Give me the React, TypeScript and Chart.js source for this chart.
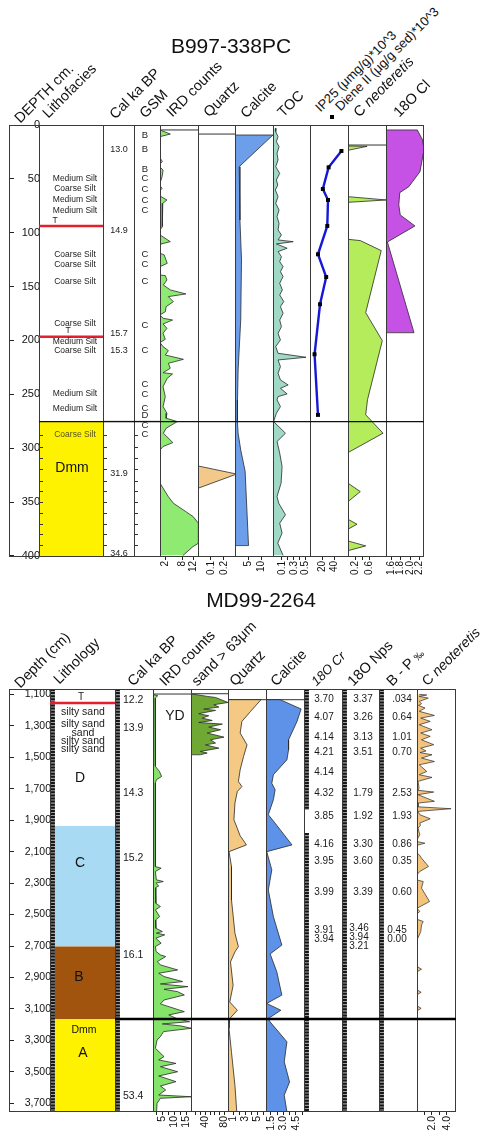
import React, { useEffect, useRef } from 'react';
import { Chart, registerables } from 'chart.js';

Chart.register(...registerables);

const FONT = '"Liberation Sans", Arial, Helvetica, sans-serif';
type P = [number, number]; // [depth, value]

// ================= Panel 1 : B997-338PC (depth cm) =================
const p1DepthTicks = [0, 50, 100, 150, 200, 250, 300, 350, 400];

const p1LithDepth = [49.5, 59.4, 69.6, 79.5, 120.4, 129.3, 145.4, 184.7, 201.1, 209.5, 249.7, 262.9];
const p1LithName = ['Medium Silt', 'Coarse Silt', 'Medium Silt', 'Medium Silt', 'Coarse Silt', 'Coarse Silt',
  'Coarse Silt', 'Coarse Silt', 'Medium Silt', 'Coarse Silt', 'Medium Silt', 'Medium Silt'];
const p1TephraDepth = [93.7, 196.5];
const p1DmmTop = 275.3;
const p1DmmLabels = ['Coarse Silt', 'Dmm'];
const p1DmmLabelDepth = [287.7, 318.6];
const p1CoreMarks = [288, 299, 309, 319, 330, 340, 350, 360, 370, 380, 390];

const p1CalDepth = [22.3, 98.4, 193.3, 209.5, 323.9, 398.1];
const p1CalAge = ['13.0', '14.9', '15.7', '15.3', '31.9', '34.6'];

const p1GsmDepth = [9.9, 22.3, 40.8, 49.5, 59.4, 69.6, 79.5, 120.4, 129.3, 145.4, 186.3, 209.5, 240.7, 249.7, 262.9, 269.1, 278.4, 287];
const p1GsmCode = ['B', 'B', 'B', 'C', 'C', 'C', 'C', 'C', 'C', 'C', 'C', 'C', 'C', 'C', 'C', 'D', 'C', 'C'];

const p1IRD: P[] = [[4.6, 0], [8.4, 3.7], [10.8, 0], [30.3, 0], [34, 0.85], [36.2, 0], [39, 0], [41.8, 1.1], [48, 0.75], [54, 0],
  [56.5, 0], [58.8, 0.75], [61, 0], [65.9, 0], [69.6, 2.5], [72.7, 1.0], [80, 0.8], [94.4, 0.85], [97.4, 0], [102, 0],
  [108.3, 3.7], [110.4, 0.4], [113, 0], [119, 0], [120.6, 1.5], [128.4, 2.6], [131.5, 0], [139.2, 0], [139.8, 1.9],
  [143.9, 2.5], [148.5, 1.2], [153.1, 3.7], [156.8, 9.3], [159.3, 3.0], [164, 4.8], [168.6, 2.2], [173.3, 1.9], [176.3, 0],
  [179.4, 1.1], [181, 4.5], [184.7, 1.1], [188.7, 2.5], [193.3, 1.1], [198.9, 1.9], [202, 0], [205.7, 1.1], [209.4, 3.0],
  [213.5, 1.9], [217.5, 8.4], [221.2, 3.0], [225.8, 3.7], [229.9, 1.1], [231.1, 4.5], [235.1, 2.6], [242.9, 1.1],
  [252.2, 1.9], [261.4, 1.1], [267.6, 2.5], [272.2, 2.2], [275.3, 6.2], [281.5, 2.2], [286.1, 1.2], [294.8, 4.6],
  [298.5, 1.1], [301.6, 0], [332.5, 0], [345, 3.0], [351.1, 4.8], [358.9, 9.3], [363.5, 11.9], [369.7, 13.8],
  [388.2, 13.8], [391.4, 11.8], [399.7, 8.2]];
const p1IRDTop = 4.6;

const p1Quartz: P[] = [[316.5, 0], [324, 0.3], [337.2, 0]];
const p1QuartzTop = 8.4;

const p1Calcite: P[] = [[9.3, 0], [9.3, 14.6], [38.7, 1.6], [88.2, 1.9], [125.3, 2.5], [181, 2.2], [227.4, 1.2],
  [255.2, 0.96], [275.3, 0.92], [286.1, 1.2], [301.6, 2.2], [321.4, 3.9], [390.4, 5.2], [390.4, 0]];

const p1TOC: P[] = [[3, 0.0], [6.2, -0.004], [10.8, 0.035], [15.5, 0.007], [20.1, 0.052], [26.3, 0.018], [32.5, 0.035],
  [38.7, -0.004], [44.9, 0.063], [51, 0.007], [55.7, 0.03], [60.3, -0.01], [66.5, 0.035], [72.7, -0.004], [78.9, 0.052],
  [85.1, 0.018], [91.3, 0.052], [97.4, 0.035], [102.1, 0.092], [106.7, 0.035], [108.3, 0.29], [110.4, 0.007],
  [114.4, 0.188], [117.5, 0.035], [122.2, 0.092], [126.8, 0.063], [131.5, 0.12], [136.1, 0.075], [140.7, 0.12],
  [146.9, 0.063], [153.1, 0.108], [157.8, 0.063], [163.9, 0.132], [168.6, 0.075], [174.8, 0.12], [181, 0.063],
  [187.2, 0.092], [193.3, 0.035], [199.5, 0.075], [205.7, -0.004], [211.9, 0.035], [215.6, 0.506], [218.1, 0.035],
  [224.3, 0.075], [230.5, 0.035], [236.6, 0.075], [241.3, 0.205], [244.4, 0.075], [249.6, 0.188], [252.1, 0.035],
  [255.2, 0.018], [261.4, 0.075], [267.6, 0.007], [275.3, -0.04], [286.1, 0.16], [293.8, 0.018], [304.6, 0.063],
  [317, 0.103], [332.5, 0.086], [344.8, 0.018], [351, 0.046], [361.8, 0.16], [369.5, 0.063], [378.8, 0.103],
  [388.1, 0.03], [399.5, 0.12]];

const p1IP25: P[] = [[24.1, 52.4], [39.3, 31], [59.4, 21.4], [69.6, 30], [93.7, 28.8], [120, 13.3], [141.1, 27],
  [166.4, 16.7], [212.8, 7.6], [269.1, 13.3]];

const p1Cneo: P[] = [[19.5, 0], [19.8, 0.53], [23.5, 0], [66.5, 0], [69.6, 1.06], [71.8, 0], [106.1, 0], [107.3, 0.34],
  [116.6, 0.92], [174.2, 0.49], [200.2, 0.95], [255, 0.54], [269, 0.49], [286.1, 0.97], [304.1, 0], [332.5, 0],
  [340.3, 0.34], [349.6, 0], [366, 0], [370.6, 0.25], [375.2, 0], [386.1, 0], [390.7, 0.49], [395.1, 0]];
const p1CneoTop = 18.6;

const p1O18: P[] = [[4.6, 1.49], [4.6, 2.15], [13.9, 2.26], [23.2, 2.29], [43.3, 2.205], [57.3, 1.97], [62.8, 1.78],
  [74.2, 1.76], [83.5, 1.79], [93.7, 2.1], [108.6, 1.52], [192.8, 2.08], [192.8, 1.49]];

// ================= Panel 2 : MD99-2264 (depth cm) =================
const p2DepthTicks = [1100, 1300, 1500, 1700, 1900, 2100, 2300, 2500, 2700, 2900, 3100, 3300, 3500, 3700];

const p2LithName = ['silty sand', 'silty sand', 'sand', 'silty sand', 'silty sand'];
const p2LithDepth = [1215, 1291, 1346, 1395, 1448];
const p2UnitName = ['D', 'C', 'B', 'A'];
const p2UnitDepth = [1632, 2173, 2900, 3382];
const p2UnitX = [30, 30, 29, 33];
const p2TephraDepth = 1155;
const p2UnitC: P = [1936, 2702];
const p2UnitB: P = [2702, 3164];
const p2UnitA: P = [3164, 3755];
const p2DmmDepth = 3234;
const p2Boundary = 3164;

const p2CalDepth = [1134, 1314, 1728, 2142, 2757, 3652];
const p2CalAge = ['12.2', '13.9', '14.3', '15.2', '16.1', '53.4'];

const p2CrDepth = [1134, 1244, 1372, 1467, 1597, 1728, 1877, 2050, 2160, 2356, 2598, 2655];
const p2CrVal = ['3.70', '4.07', '4.14', '4.21', '4.14', '4.32', '3.85', '4.16', '3.95', '3.99', '3.91', '3.94'];
const p2NpsDepth = [1134, 1244, 1372, 1467, 1728, 1877, 2050, 2160, 2356, 2587, 2646, 2704];
const p2NpsVal = ['3.37', '3.26', '3.13', '3.51', '1.79', '1.92', '3.30', '3.60', '3.39', '3.46', '3.94', '3.21'];
const p2BPDepth = [1134, 1244, 1372, 1467, 1728, 1877, 2050, 2160, 2356, 2598, 2655];
const p2BPVal = ['.034', '0.64', '1.01', '0.70', '2.53', '1.93', '0.86', '0.35', '0.60', '0.45', '0.00'];

const p2IRD: P[] = [[1098, 1.0], [1102.5, 1.3], [1109, 3.0], [1124, 1.9], [1140, 2.0], [1558, 2.0], [1590, 3.7], [1622, 4.6],
  [1643, 2.4], [1664, 2.0], [2195, 2.0], [2205, 4.4], [2226, 2.0], [2279, 2.4], [2290, 5.3], [2300, 2.2], [2318, 3.4],
  [2330, 2.0], [2428, 2.2], [2449, 4.1], [2470, 2.0], [2513, 3.8], [2535, 2.0], [2587, 2.2], [2608, 4.9], [2618, 2.4],
  [2629, 5.9], [2650, 2.2], [2682, 4.4], [2703, 2.0], [2735, 2.3], [2756, 4.1], [2767, 6.3], [2799, 2.8], [2820, 4.1],
  [2852, 11.3], [2873, 3.4], [2894, 5.6], [2926, 13.4], [2941, 4.1], [2958, 15.6], [2975, 5.6], [2990, 11.3],
  [3011, 14.1], [3043, 5.6], [3068, 4.1], [3117, 14.1], [3138, 7.6], [3159, 10.6], [3181, 16.3], [3195, 4.9],
  [3208, 12.7], [3223, 17.0], [3244, 5.4], [3276, 4.1], [3297, 2.7], [3350, 2.0], [3403, 5.6], [3424, 3.4],
  [3446, 10.6], [3467, 4.1], [3499, 11.3], [3526, 3.4], [3562, 10.6], [3590, 4.1], [3615, 6.3], [3647, 3.4],
  [3658, 17.0], [3668, 4.1], [3700, 2.7], [3750, 2.5]];
const p2IRDTop = 1098;

const p2Sand: P[] = [[1098, 10], [1102.5, 22.8], [1113, 44], [1120, 61.7], [1151.5, 87.9], [1166, 58.1], [1181, 68.7],
  [1193.5, 36.8], [1202, 61.7], [1223, 26.2], [1236, 47.4], [1251, 33.4], [1266, 54.7], [1279, 26.2], [1289, 76],
  [1308, 47.4], [1325, 72.3], [1346, 44], [1372, 79.4], [1389, 51.1], [1410, 61.7], [1421, 40.4], [1442, 68.7],
  [1463, 29.8], [1473, 44], [1484, 29.8], [1484, 10]];
const p2SandTop = 1096;

const p2Quartz: P[] = [[1134, 0.15], [1134, 5.6], [1209, 3.87], [1272, 2.45], [1346, 2.16], [1421, 3.3], [1495, 2.72],
  [1580, 2.16], [1654, 1.87], [1686, 2.45], [1717, 1.7], [1790, 1.3], [1897, 1.13], [1999, 2.16], [2057, 3.2],
  [2100, 0.32], [2195, 0.73], [2407, 0.73], [2619, 1.3], [2704, 1.87], [2737, 1.3], [2801, 0.56], [2950, 1.0],
  [3056, 0.44], [3108, 1.7], [3161, 0.44], [3224, 0.32], [3376, 0.73], [3588, 1.3], [3755, 1.6]];
const p2QuartzTop = 1134;

const p2Calcite: P[] = [[1134, 0.9], [1134, 2.6], [1193, 5.13], [1272, 4.64], [1389, 3.62], [1452, 3.62], [1516, 3.42],
  [1611, 1.79], [1665, 1.6], [1707, 2.0], [1770, 1.79], [1865, 1.18], [1919, 2.0], [2057, 4.03], [2100, 0.99],
  [2216, 1.6], [2344, 1.18], [2513, 1.79], [2694, 2.81], [2750, 1.4], [2864, 2.2], [3012, 2.81], [3065, 0.99],
  [3108, 2.69], [3161, 1.18], [3182, 1.39], [3309, 3.42], [3436, 3.1], [3564, 3.74], [3648, 3.1], [3755, 3.42]];
const p2CalciteTop = 1134;

const p2Cneo: P[] = [[1100, 0.3], [1104, 1.3], [1113, 0.3], [1124, 1.5], [1145, 0.3], [1160, 0.6], [1170, 0.2],
  [1187, 1.07], [1208, 0.3], [1234, 2.32], [1251, 0.5], [1272, 1.76], [1293, 0.3], [1325, 2.0], [1346, 0.5],
  [1367, 1.76], [1389, 0.6], [1420, 2.23], [1442, 0.5], [1460, 1.2], [1470, 0.4], [1484, 2.0], [1505, 0.6],
  [1527, 2.32], [1548, 0.3], [1590, 1.3], [1611, 0.3], [1628, 2.0], [1653, 0.14], [1696, 0.28], [1710, 0.14],
  [1721, 2.23], [1738, 0.14], [1780, 2.32], [1791, 0.14], [1815, 0.14], [1827, 4.54], [1844, 0.14], [1865, 0.37],
  [1891, 1.76], [1918, 0.37], [1933, 0.46], [1950, 0.14], [1993, 0.37], [2024, 0], [2036, 0], [2046, 1.05],
  [2060, 0], [2110, 0], [2120, 0.3], [2141, 0.6], [2194, 1.53], [2226, 0.37], [2247, 0], [2280, 0], [2290, 0.83],
  [2332, 0.6], [2417, 1.67], [2460, 0], [2480, 0.37], [2495, 0], [2530, 0], [2544, 0.83], [2566, 0.6], [2608, 0.5],
  [2661, 0], [2830, 0], [2847, 0.6], [2864, 0], [2978, 0], [2994, 0.55], [3010, 0], [3080, 0], [3096, 0.55], [3112, 0]];

// ================= rendering =================
const PADT = 10;
const YELLOW = '#FFF200';
const RED = '#E3202C';

type TextItem = { d: number; t: string; x: number; size: number; color?: string; align?: CanvasTextAlign; base?: CanvasTextBaseline; style?: string };
type Series = { pts: P[]; fill?: string; line?: string; lw?: number; points?: boolean };
type Spec = {
  L: number; R: number; T: number; B: number; yMin: number; yMax: number; axisH: number;
  xMin?: number; xMax?: number;
  series?: Series[]; tops?: number[];
  blocks?: { d1: number; d2: number; color: string }[];
  ticks?: number[]; labels?: string[]; tickFont?: number;
  texts?: TextItem[];
  hlines?: { d: number; color: string; w: number }[];
  hatch?: P[]; marks?: number[];
  depth?: { ticks: number[]; labels: string[]; font: number; pad: number };
};

function buildConfig(s: Spec) {
  const W = s.R - s.L + 1;
  const xMin = s.xMin ?? 0;
  const xMax = s.xMax ?? W;
  const datasets: any[] = [];
  (s.series || []).forEach((se) => {
    datasets.push({
      data: se.pts.map(([d, v]) => ({ x: v, y: d })),
      borderColor: se.line ?? '#2a2a2a',
      borderWidth: se.lw ?? 0.8,
      backgroundColor: se.fill ?? 'rgba(0,0,0,0)',
      fill: se.fill ? { value: xMin } : false,
      pointRadius: se.points ? 2.8 : 0,
      pointStyle: 'rect',
      pointBackgroundColor: '#000',
      pointBorderColor: '#000',
      pointBorderWidth: 0,
      tension: 0,
    });
  });
  (s.tops || []).forEach((d) => {
    datasets.push({ data: [{ x: xMin, y: d }, { x: xMax, y: d }], borderColor: '#333', borderWidth: 1, pointRadius: 0, fill: false });
  });
  (s.blocks || []).forEach((b) => {
    datasets.push({ data: [{ x: xMax, y: b.d1 }, { x: xMax, y: b.d2 }], borderWidth: 0, borderColor: 'rgba(0,0,0,0)', backgroundColor: b.color, fill: { value: xMin }, pointRadius: 0 });
  });

  const deco = {
    id: 'deco',
    afterDatasetsDraw(chart: any) {
      const { ctx, chartArea: a } = chart;
      const ys = chart.scales.y;
      const yp = (d: number) => ys.getPixelForValue(d);
      ctx.save();
      if (s.hatch) {
        const hx = a.left + 2.6;
        s.hatch.forEach(([d1, d2]) => {
          ctx.lineWidth = 4.6;
          ctx.setLineDash([]);
          ctx.strokeStyle = '#9c9c9c';
          ctx.beginPath(); ctx.moveTo(hx, yp(d1)); ctx.lineTo(hx, yp(d2)); ctx.stroke();
          ctx.setLineDash([2, 1.1]);
          ctx.strokeStyle = '#161616';
          ctx.beginPath(); ctx.moveTo(hx, yp(d1)); ctx.lineTo(hx, yp(d2)); ctx.stroke();
        });
        ctx.setLineDash([]);
      }
      if (s.marks) {
        ctx.strokeStyle = '#333'; ctx.lineWidth = 1;
        s.marks.forEach((d) => {
          const y = Math.round(yp(d)) + 0.5;
          ctx.beginPath(); ctx.moveTo(a.left, y); ctx.lineTo(a.left + 4, y); ctx.stroke();
        });
      }
      // column frame
      ctx.strokeStyle = '#3a3a3a';
      ctx.lineWidth = 1;
      const right = s.depth ? chart.width : a.right;
      ctx.strokeRect(a.left + 0.5, Math.round(a.top) + 0.5, right - a.left - 1, Math.round(a.bottom - a.top) - 1);
      (s.hlines || []).forEach((h) => {
        const y = yp(h.d);
        ctx.strokeStyle = h.color; ctx.lineWidth = h.w;
        ctx.beginPath(); ctx.moveTo(a.left, y); ctx.lineTo(a.right, y); ctx.stroke();
      });
      (s.texts || []).forEach((t) => {
        ctx.font = `${t.style ?? ''} ${t.size}px ${FONT}`;
        ctx.fillStyle = t.color ?? '#1a1a1a';
        ctx.textAlign = t.align ?? 'center';
        ctx.textBaseline = t.base ?? 'middle';
        ctx.fillText(t.t, a.left + t.x, yp(t.d));
      });
      ctx.restore();
    },
  };

  const x: any = {
    type: 'linear', min: xMin, max: xMax, position: 'bottom', display: true,
    border: { display: false },
    grid: { display: !!s.ticks, drawOnChartArea: false, drawTicks: true, tickLength: 3, color: '#222', lineWidth: 1 },
    ticks: s.ticks
      ? { display: true, autoSkip: false, minRotation: 90, maxRotation: 90, padding: 1, color: '#111',
          font: { size: s.tickFont ?? 10, family: FONT }, callback: (_v: any, i: number) => s.labels![i] }
      : { display: false },
    afterFit: (sc: any) => { sc.height = s.axisH; sc.paddingLeft = 0; sc.paddingRight = 0; },
  };
  if (s.ticks) x.afterBuildTicks = (sc: any) => { sc.ticks = s.ticks!.map((v) => ({ value: v })); };

  const y: any = s.depth
    ? {
        type: 'linear', min: s.yMin, max: s.yMax, reverse: true, position: 'right', display: true,
        border: { display: false },
        grid: { drawOnChartArea: false, drawTicks: true, tickLength: 4, color: '#222' },
        ticks: { autoSkip: false, crossAlign: 'far', padding: s.depth.pad, color: '#111',
          font: { size: s.depth.font, family: FONT }, callback: (_v: any, i: number) => s.depth!.labels[i] },
        afterBuildTicks: (sc: any) => { sc.ticks = s.depth!.ticks.map((v) => ({ value: v })); },
        afterFit: (sc: any) => { sc.width = W - 1; sc.paddingTop = 0; sc.paddingBottom = 0; },
      }
    : { type: 'linear', min: s.yMin, max: s.yMax, reverse: true, display: false };

  return {
    type: 'line',
    data: { datasets },
    options: {
      responsive: false,
      animation: false,
      devicePixelRatio: 1,
      indexAxis: 'y',
      events: [],
      layout: { padding: { top: PADT, left: 0, right: 0, bottom: 0 }, autoPadding: false },
      plugins: { legend: { display: false }, tooltip: { enabled: false }, title: { display: false } },
      scales: { x, y },
    },
    plugins: [deco],
  };
}

function Strip({ s }: { s: Spec }) {
  const ref = useRef<HTMLCanvasElement | null>(null);
  const W = s.R - s.L + 1;
  const H = PADT + (s.B - s.T + 1) + s.axisH;
  useEffect(() => {
    if (!ref.current) return;
    const chart = new Chart(ref.current, buildConfig(s) as any);
    return () => chart.destroy();
  }, []);
  return <canvas ref={ref} width={W} height={H} style={{ position: 'absolute', left: s.L, top: s.T - PADT, width: W, height: H }} />;
}

const P1 = { T: 125, B: 556, yMin: 0, yMax: 401, axisH: 24 };
const P2 = { T: 689, B: 1111, yMin: 1066, yMax: 3755, axisH: 28 };
const blk1 = { d: p1DmmTop, color: '#111', w: 1.4 };
const blk2 = { d: p2Boundary, color: '#000', w: 2.6 };
const fullP2: P[] = [[1066, 3755]];

const specs: Spec[] = [
  // ---------- panel 1 ----------
  { ...P1, L: 9, R: 39, depth: { ticks: p1DepthTicks, labels: p1DepthTicks.map(String), font: 11, pad: 1 } },
  {
    ...P1, L: 39, R: 103,
    blocks: [{ d1: p1DmmTop, d2: 401, color: YELLOW }],
    marks: p1CoreMarks,
    hlines: [{ d: p1TephraDepth[0], color: RED, w: 2.6 }, { d: p1TephraDepth[1], color: RED, w: 2.6 }, blk1],
    texts: [
      ...p1LithDepth.map((d, i) => ({ d, t: p1LithName[i], x: 36, size: 8.5, color: '#222' })),
      { d: p1TephraDepth[0] - 1.3, t: 'T', x: 16, size: 8.5, base: 'bottom' as CanvasTextBaseline },
      { d: p1TephraDepth[1] - 1.3, t: 'T', x: 29, size: 8.5, base: 'bottom' as CanvasTextBaseline },
      { d: p1DmmLabelDepth[0], t: p1DmmLabels[0], x: 36, size: 8.5, color: '#55551a' },
      { d: p1DmmLabelDepth[1], t: p1DmmLabels[1], x: 33, size: 14, color: '#111' },
    ],
  },
  {
    ...P1, L: 103, R: 134, marks: p1CoreMarks, hlines: [blk1],
    texts: p1CalDepth.map((d, i) => ({ d, t: p1CalAge[i], x: 16, size: 9, color: '#222' })),
  },
  {
    ...P1, L: 134, R: 160, marks: p1CoreMarks, hlines: [blk1],
    texts: p1GsmDepth.map((d, i) => ({ d, t: p1GsmCode[i], x: 11, size: 9.5, color: '#222' })),
  },
  { ...P1, L: 160, R: 198, xMin: 0, xMax: 14, series: [{ pts: p1IRD, fill: '#8FEA72' }], tops: [p1IRDTop], hlines: [blk1],
    ticks: [2, 8, 12], labels: ['2', '8', '12'], tickFont: 10 },
  { ...P1, L: 198, R: 235, xMin: 0, xMax: 0.295, series: [{ pts: p1Quartz, fill: '#F3C98A' }], tops: [p1QuartzTop], hlines: [blk1],
    ticks: [0.1, 0.2], labels: ['0.1', '0.2'], tickFont: 10 },
  { ...P1, L: 235, R: 273, xMin: 0, xMax: 15, series: [{ pts: p1Calcite, fill: '#6C9EEA' }], hlines: [blk1],
    ticks: [5, 10], labels: ['5', '10'], tickFont: 10 },
  { ...P1, L: 273, R: 310, xMin: -0.05, xMax: 0.59, series: [{ pts: p1TOC, fill: '#A0DAC6' }], hlines: [blk1],
    ticks: [0.1, 0.2, 0.3, 0.4, 0.5], labels: ['0.1', '', '0.3', '', '0.5'], tickFont: 10 },
  { ...P1, L: 310, R: 348, xMin: 0, xMax: 65, series: [{ pts: p1IP25, line: '#1717D6', lw: 2.4, points: true }], hlines: [blk1],
    ticks: [20, 40], labels: ['20', '40'], tickFont: 10 },
  { ...P1, L: 348, R: 386, xMin: 0, xMax: 1.08, series: [{ pts: p1Cneo, fill: '#B5EC5C' }], tops: [p1CneoTop], hlines: [blk1],
    ticks: [0.2, 0.4, 0.6], labels: ['0.2', '', '0.6'], tickFont: 10 },
  { ...P1, L: 386, R: 423, xMin: 1.49, xMax: 2.29, series: [{ pts: p1O18, fill: '#C552E4' }], hlines: [blk1],
    ticks: [1.6, 1.8, 2.0, 2.2], labels: ['1.6', '1.8', '2.0', '2.2'], tickFont: 10 },

  // ---------- panel 2 ----------
  { ...P2, L: 9, R: 50, depth: { ticks: p2DepthTicks, labels: p2DepthTicks.map((v) => v.toLocaleString('en-US')), font: 10.5, pad: 4 } },
  {
    ...P2, L: 50, R: 115,
    blocks: [{ d1: p2UnitC[0], d2: p2UnitC[1], color: '#A8DAF4' }, { d1: p2UnitB[0], d2: p2UnitB[1], color: '#A0540E' },
      { d1: p2UnitA[0], d2: p2UnitA[1], color: YELLOW }],
    hatch: fullP2,
    hlines: [{ d: p2TephraDepth, color: RED, w: 2.6 }],
    texts: [
      { d: p2TephraDepth - 6, t: 'T', x: 31, size: 10, base: 'bottom' as CanvasTextBaseline },
      ...p2LithDepth.map((d, i) => ({ d, t: p2LithName[i], x: 33, size: 10.5, color: '#1a1a1a' })),
      ...p2UnitDepth.map((d, i) => ({ d, t: p2UnitName[i], x: p2UnitX[i], size: 14, color: '#111' })),
      { d: p2DmmDepth, t: 'Dmm', x: 34, size: 10.5, color: '#111' },
    ],
  },
  {
    ...P2, L: 115, R: 153, hatch: fullP2, hlines: [blk2],
    texts: p2CalDepth.map((d, i) => ({ d, t: p2CalAge[i], x: 8, size: 10.5, align: 'left' as CanvasTextAlign })),
  },
  { ...P2, L: 153, R: 191, xMin: 1, xMax: 17.3, series: [{ pts: p2IRD, fill: '#84E46A' }], tops: [p2IRDTop], hlines: [blk2],
    ticks: [2.5, 5, 7.5, 10, 12.5, 15], labels: ['', '5', '', '10', '', '15'], tickFont: 10.5,
    texts: [{ d: 1240, t: 'YD', x: 22, size: 14 }] },
  { ...P2, L: 191, R: 228, xMin: 10, xMax: 90, series: [{ pts: p2Sand, fill: '#6FA833' }], tops: [p2SandTop], hlines: [blk2],
    ticks: [20, 30, 40, 50, 60, 70, 80], labels: ['', '', '40', '', '', '', '80'], tickFont: 10.5 },
  { ...P2, L: 228, R: 266, xMin: 0.15, xMax: 6.6, series: [{ pts: p2Quartz, fill: '#F3C983' }], tops: [p2QuartzTop], hlines: [blk2],
    ticks: [1, 2, 3, 4, 5, 6], labels: ['1', '', '3', '', '5', ''], tickFont: 10.5 },
  { ...P2, L: 266, R: 304, xMin: 0.9, xMax: 5.6, series: [{ pts: p2Calcite, fill: '#5E91E8' }], tops: [p2CalciteTop], hlines: [blk2],
    ticks: [1.5, 2.25, 3.0, 3.75, 4.5, 5.25], labels: ['1.5', '', '3.0', '', '4.5', ''], tickFont: 10.5 },
  { ...P2, L: 304, R: 342, hatch: [[1066, 1834], [1982, 3755]], hlines: [blk2],
    texts: p2CrDepth.map((d, i) => ({ d, t: p2CrVal[i], x: 20, size: 10 })) },
  { ...P2, L: 342, R: 379, hatch: fullP2, hlines: [blk2],
    texts: p2NpsDepth.map((d, i) => ({ d, t: p2NpsVal[i], x: i >= 9 ? 17 : 21, size: 10 })) },
  { ...P2, L: 379, R: 417, hatch: fullP2, hlines: [blk2],
    texts: p2BPDepth.map((d, i) => ({ d, t: p2BPVal[i], x: i >= 9 ? 18 : 23, size: 10 })) },
  { ...P2, L: 417, R: 455, xMin: 0, xMax: 5.2, series: [{ pts: p2Cneo, fill: '#F4C47E', lw: 0.7 }], hlines: [blk2],
    ticks: [1, 2, 3, 4], labels: ['', '2.0', '', '4.0'], tickFont: 10.5 },
];

type Head = { x: number; y: number; t: React.ReactNode; size?: number };
const headers: Head[] = [
  { x: 22, y: 125, t: 'DEPTH cm.' },
  { x: 50, y: 120, t: 'Lithofacies' },
  { x: 117, y: 121, t: 'Cal ka BP' },
  { x: 147, y: 120, t: 'GSM' },
  { x: 174, y: 119, t: 'IRD counts' },
  { x: 211, y: 119, t: 'Quartz' },
  { x: 248, y: 120, t: 'Calcite' },
  { x: 285, y: 119, t: 'TOC' },
  { x: 322, y: 114, t: 'IP25 (μmg/g)*10^3', size: 13 },
  { x: 342, y: 113, t: 'Diene II (μg/g sed)*10^3', size: 13 },
  { x: 361, y: 119, t: <span>C <i>neoteretis</i></span> },
  { x: 401, y: 119, t: '18O Cl' },
  { x: 22, y: 690, t: 'Depth (cm)' },
  { x: 61, y: 686, t: 'Lithology' },
  { x: 135, y: 688, t: 'Cal ka BP' },
  { x: 167, y: 688, t: 'IRD counts' },
  { x: 199, y: 688, t: 'sand > 63μm' },
  { x: 237, y: 688, t: 'Quartz' },
  { x: 278, y: 688, t: 'Calcite' },
  { x: 318, y: 688, t: <i>18O Cr</i>, size: 13 },
  { x: 355, y: 688, t: '18O Nps' },
  { x: 394, y: 688, t: <span>B - P <span style={{ fontSize: 10 }}>‰</span></span> },
  { x: 429, y: 688, t: <span>C <i>neoteretis</i></span>, size: 14 },
];

function Header({ h }: { h: Head }) {
  const size = h.size ?? 14.5;
  return (
    <div style={{ position: 'absolute', left: h.x, top: h.y - size, height: size, lineHeight: `${size}px`, fontSize: size,
      fontFamily: FONT, whiteSpace: 'nowrap', transformOrigin: '0 100%', transform: 'rotate(-45deg)', color: '#111' }}>
      {h.t}
    </div>
  );
}

export default function App() {
  return (
    <div style={{ position: 'absolute', left: 0, top: 0, width: 483, height: 1140, background: '#fff', fontFamily: FONT, overflow: 'hidden' }}>
      {specs.map((s, i) => <Strip key={i} s={s} />)}
      {headers.map((h, i) => <Header key={i} h={h} />)}
      <div style={{ position: 'absolute', left: 330, top: 115, width: 4, height: 4, background: '#000' }} />
      <div style={{ position: 'absolute', left: 81, top: 35, width: 300, textAlign: 'center', fontSize: 21, lineHeight: '21px', color: '#111' }}>B997-338PC</div>
      <div style={{ position: 'absolute', left: 111, top: 589, width: 300, textAlign: 'center', fontSize: 21, lineHeight: '21px', color: '#111' }}>MD99-2264</div>
    </div>
  );
}
